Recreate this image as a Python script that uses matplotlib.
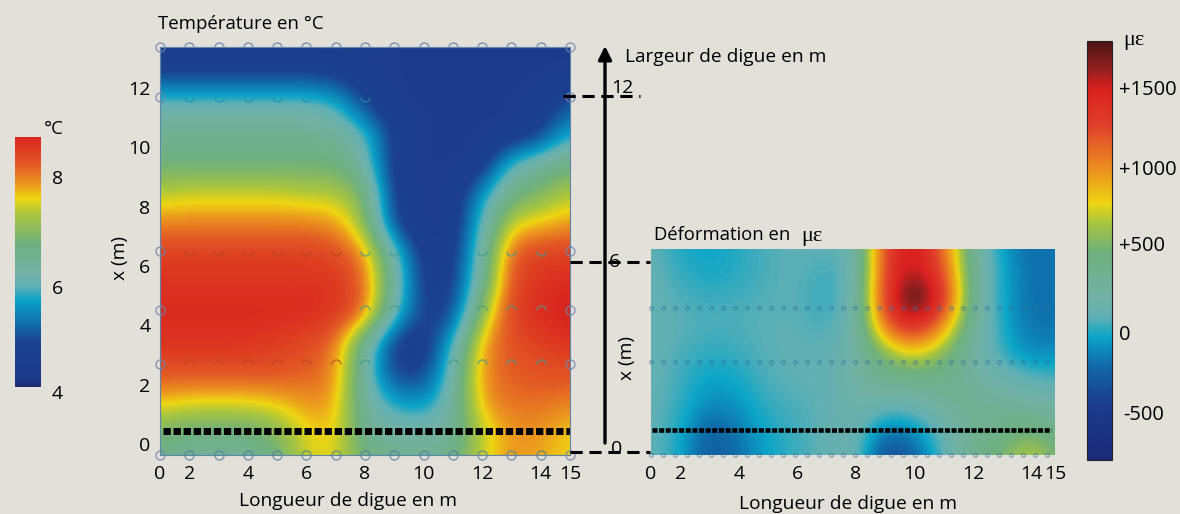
import numpy as np
from matplotlib import pyplot as plt
from matplotlib.colors import LinearSegmentedColormap
from matplotlib.path import Path

plt.rcParams['font.family'] = ['Open Sans', 'DejaVu Sans']

W, H = 1180, 514
BG = '#e3dfd9'

# sensor number along the dike (1..15), rows from top to bottom
columns = np.arange(1, 16)
temp_rows = np.arange(13.4, -0.7, -1.0)
temp = np.array([
    [4.6, 4.6, 4.6, 4.6, 4.6, 4.6, 4.6, 4.6, 4.6, 4.6, 4.5, 4.4, 4.5, 4.6, 4.6],
    [5.0, 5.0, 5.0, 5.0, 5.0, 5.0, 4.9, 4.7, 4.6, 4.6, 4.6, 4.6, 4.6, 4.6, 4.6],
    [6.2, 6.2, 6.2, 6.2, 6.2, 6.2, 6.0, 5.0, 4.6, 4.6, 4.6, 4.6, 4.6, 4.7, 5.2],
    [6.5, 6.5, 6.5, 6.5, 6.5, 6.5, 6.5, 6.1, 4.8, 4.6, 4.6, 4.6, 4.6, 4.9, 5.9],
    [6.8, 6.8, 6.8, 6.8, 6.8, 6.8, 6.8, 6.3, 4.7, 4.6, 4.6, 4.6, 6.1, 6.5, 6.8],
    [7.4, 7.5, 7.5, 7.5, 7.5, 7.4, 7.4, 7.0, 4.8, 4.6, 4.6, 5.7, 6.7, 7.0, 7.4],
    [8.0, 8.0, 8.0, 8.0, 8.0, 8.0, 7.9, 7.2, 4.9, 4.6, 4.6, 6.0, 7.6, 7.7, 7.9],
    [8.5, 8.5, 8.5, 8.5, 8.5, 8.5, 8.4, 8.0, 6.2, 4.7, 4.7, 6.3, 8.3, 8.5, 8.5],
    [8.6, 8.6, 8.6, 8.6, 8.6, 8.6, 8.6, 8.2, 6.4, 4.8, 4.8, 6.5, 8.4, 8.6, 8.7],
    [8.7, 8.7, 8.7, 8.7, 8.7, 8.7, 8.6, 8.2, 6.1, 4.9, 4.9, 7.2, 8.5, 8.7, 8.8],
    [8.6, 8.6, 8.6, 8.6, 8.5, 8.4, 8.1, 6.4, 4.8, 4.6, 5.9, 7.9, 8.3, 8.5, 8.6],
    [8.3, 8.3, 8.3, 8.3, 8.3, 8.2, 8.0, 6.3, 4.9, 4.9, 6.2, 8.0, 8.2, 8.3, 8.3],
    [7.7, 7.6, 7.6, 7.6, 7.7, 7.9, 7.9, 6.3, 5.8, 5.6, 6.3, 7.9, 8.1, 8.1, 8.0],
    [6.9, 6.7, 6.7, 6.7, 7.0, 7.6, 7.7, 6.5, 6.3, 6.3, 6.4, 7.4, 7.9, 7.9, 7.6],
    [6.5, 6.4, 6.4, 6.4, 6.7, 7.5, 7.6, 6.8, 6.6, 6.6, 6.6, 7.6, 7.9, 7.8, 7.6],
])

strain_rows = np.arange(6.4, -0.9, -0.8)
strain = np.array([
    [110, -10, -30, 10, 70, 100, 90, 120, 1350, 1600, 1150, 300, -60, -220, -150],
    [130, 30, -20, 10, 70, 100, 30, 120, 1350, 1650, 1300, 300, -10, -220, -150],
    [120, 70, 40, 60, 80, 90, 10, 140, 1400, 1950, 1450, 320, -30, -210, -160],
    [120, 90, 70, 70, 90, 100, 40, 170, 1200, 1550, 1050, 280, 0, -200, -160],
    [130, 70, 20, 50, 90, 100, 90, 220, 650, 900, 620, 240, 20, -140, -100],
    [120, 50, -40, -10, 80, 100, 110, 230, 380, 440, 400, 250, 150, 60, 40],
    [120, 40, -110, -70, 50, 70, 100, 220, 200, 180, 350, 340, 300, 240, 200],
    [110, 10, -260, -140, 0, 50, 110, 190, -120, -60, 150, 340, 380, 450, 350],
    [110, 0, -330, -200, -20, 40, 110, 210, -420, -250, 100, 380, 520, 760, 450],
    [110, 0, -330, -200, -20, 40, 110, 210, -420, -250, 100, 380, 520, 760, 450],
])

# sensors that show up on the temperature map: row, columns, arc, colour
UPPER = Path.arc(0, 180)
LOWER = Path.arc(180, 360)
temp_sensors = [
    (13.38, range(2, 15), UPPER, '#5b74a8'),
    (11.7, range(2, 9), LOWER, '#1f8fb0'),
    (6.5, range(2, 8), LOWER, '#b8441f'),
    (6.5, [8, 9, 12, 13, 14], LOWER, '#3f9a90'),
    (4.5, [8, 9, 12, 13, 14], UPPER, '#4b9a80'),
    (2.7, range(2, 8), UPPER, '#b8441f'),
    (2.7, [8, 11, 12, 13, 14], UPPER, '#3f9a90'),
    (-0.37, range(2, 15), 'o', '#4f7fa0'),
]
temp_edge_rows = [-0.37, 2.7, 4.5, 6.5, 11.7, 13.38]
strain_sensor_rows = [-0.1, 2.85, 4.55]
strain_sensor_cols = np.arange(1, 14.7, 0.41)
temp_ticks = [1, 2, 4, 6, 8, 10, 12, 14, 15]
strain_ticks = [1, 2, 4, 6, 8, 10, 12, 14, 14.8]
tick_labels = ['0', '2', '4', '6', '8', '10', '12', '14', '15']

temp_cmap = LinearSegmentedColormap.from_list('temp', [
    (0, '#1a2a70'), (0.03, '#1b3a8a'), (0.176, '#1c4190'), (0.256, '#0f6fac'),
    (0.348, '#0ba3c9'), (0.40, '#5fb0b4'), (0.456, '#72b2a6'), (0.576, '#6fb07c'),
    (0.688, '#a7c53f'), (0.756, '#eed512'), (0.81, '#ec9a1e'), (0.888, '#e35a25'),
    (1, '#d9271f')])
strain_cmap = LinearSegmentedColormap.from_list('strain', [
    (0, '#1c2a78'), (0.136, '#1b3d8c'), (0.233, '#0f6fac'), (0.294, '#0ba6c9'),
    (0.34, '#5fb0b4'), (0.388, '#72b2a6'), (0.494, '#6fb07c'), (0.566, '#a7c53f'),
    (0.613, '#eed512'), (0.70, '#ec8a20'), (0.80, '#e0402a'), (0.888, '#d9201f'),
    (0.94, '#8c1f1f'), (1, '#4e1414')])


def px_axes(x0, y0, x1, y1):
    return fig.add_axes([x0 / W, 1 - y1 / H, (x1 - x0) / W, (y1 - y0) / H])


def field(ax, values, rows, cmap, vmin, vmax):
    step = abs(rows[1] - rows[0])
    return ax.imshow(values, cmap=cmap, vmin=vmin, vmax=vmax, aspect='auto',
                     interpolation='bicubic', interpolation_stage='data',
                     extent=(0.5, 15.5, rows[-1] - step / 2, rows[0] + step / 2))


fig = plt.figure(figsize=(W / 100, H / 100), dpi=100, facecolor=BG)

# temperature panel
ax1 = px_axes(160, 47, 570, 455)
im1 = field(ax1, temp, temp_rows, temp_cmap, 4.18, 8.73)
ax1.set_xlim(1, 15)
ax1.set_ylim(-0.37, 13.38)
ax1.set_xticks(temp_ticks, tick_labels)
ax1.set_yticks(range(0, 13, 2))
ax1.tick_params(length=0, labelsize=14, pad=7)
for s in ax1.spines.values():
    s.set_linewidth(0.8)
    s.set_color('#5f86a8')
for r, cols, mark, col in temp_sensors:
    cols = list(cols)
    ax1.plot(cols, [r] * len(cols), ls='none', marker=mark, ms=6.5, mfc='none',
             mec=col, mew=1.0, alpha=0.75, clip_on=False)
for c in [columns[0], columns[-1]]:
    ax1.plot([c] * len(temp_edge_rows), temp_edge_rows, ls='none', marker='o', ms=6.5,
             mfc='none', mec='#7085b0', mew=1.0, alpha=0.8, clip_on=False)
ax1.plot([1.1, 15], [0.44, 0.44], color='black', lw=5, ls=(0, (1.05, 0.4)))

# strain panel
ax2 = px_axes(651, 249, 1055, 455)
im2 = field(ax2, strain, strain_rows, strain_cmap, -800, 1820)
ax2.set_xlim(1, 14.65)
ax2.set_ylim(-0.1, 6.4)
ax2.set_xticks(strain_ticks, tick_labels)
ax2.set_yticks([])
ax2.tick_params(length=0, labelsize=14, pad=7)
for s in ax2.spines.values():
    s.set_visible(False)
for r in strain_sensor_rows:
    ax2.plot(strain_sensor_cols, [r] * len(strain_sensor_cols), ls='none', marker='o',
             ms=2.6, mfc='none', mec='#2f6f9f', mew=0.8, alpha=0.6, clip_on=False)
ax2.plot([1.05, 14.65], [0.68, 0.68], color='black', lw=3.3, ls=(0, (1.1, 0.35)))

# colour bars
cax1 = px_axes(15, 137, 41, 387)
fig.colorbar(im1, cax=cax1)
cax1.set_yticks([])
cax1.spines[:].set_visible(False)
for v, lab in [(8, '8'), (6, '6'), (4.08, '4')]:
    cax1.text(1.42, v, lab, transform=cax1.get_yaxis_transform(), fontsize=14,
              ha='left', va='center_baseline', clip_on=False)

cax2 = px_axes(1087, 41, 1112, 460)
fig.colorbar(im2, cax=cax2)
cax2.set_yticks([])
for s in cax2.spines.values():
    s.set_color('#222222')
    s.set_linewidth(0.8)
for v, lab, dx in [(1530, '+1500', 0), (1030, '+1000', 0), (555, '+500', 0),
                   (0, '0', 0), (-500, '-500', 0.16)]:
    cax2.text(1.28 + dx, v, lab, transform=cax2.get_yaxis_transform(), fontsize=14.5,
              ha='left', va='center_baseline', clip_on=False)

# annotations in picture coordinates
over = fig.add_axes([0, 0, 1, 1], facecolor='none')
over.set_xlim(0, W)
over.set_ylim(H, 0)
over.axis('off')

over.annotate('', xy=(605, 46), xytext=(605, 443),
              arrowprops=dict(arrowstyle='-|>,head_width=0.4,head_length=0.8', color='black',
                              lw=2.4, shrinkA=0, shrinkB=0))
for y, x0, x1 in [(96, 563, 640), (262, 570, 650), (452, 570, 650)]:
    over.plot([x0, x1], [y, y], color='black', lw=2.2, ls=(0, (4, 2.2)))

for x, y, s in [(622, 86, '12'), (615, 260, '6'), (617, 447, '0')]:
    over.text(x, y, s, fontsize=14, ha='center', va='center_baseline')

over.text(158, 24, 'Température en °C', fontsize=13.4, va='center')
over.text(625, 57, 'Largeur de digue en m', fontsize=13.8, va='center')
over.text(654, 235, 'Déformation en', fontsize=13.3, va='center')
over.text(801, 236, 'με', fontsize=16, va='center', family='Liberation Serif')
over.text(348, 501, 'Longueur de digue en m', fontsize=13.8, ha='center', va='center')
over.text(848, 504, 'Longueur de digue en m', fontsize=13.8, ha='center', va='center')
over.text(120, 258, 'x (m)', fontsize=13.8, rotation=90, ha='center', va='center')
over.text(627, 358, 'x (m)', fontsize=13.8, rotation=90, ha='center', va='center')
over.text(44, 129, '°C', fontsize=13.4, va='center')
over.text(1123, 41, 'με', fontsize=16, va='center', family='Liberation Serif')

fig.savefig('out.png', dpi=100, facecolor=BG)
